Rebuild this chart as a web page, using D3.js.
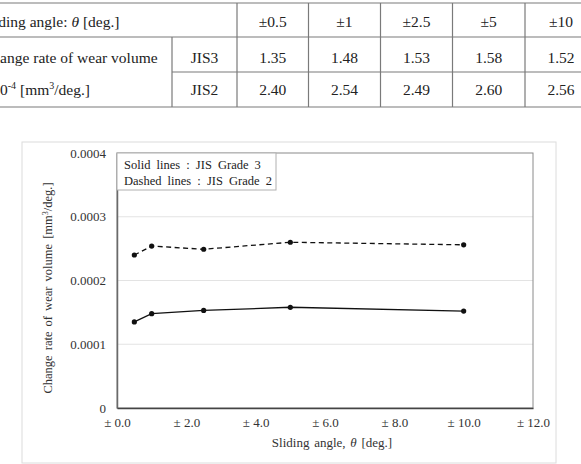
<!DOCTYPE html>
<html><head><meta charset="utf-8">
<script src="https://cdn.jsdelivr.net/npm/d3@7"></script>
<style>
html,body{margin:0;padding:0;background:#fff;}
svg{display:block;font-family:"Liberation Serif","Times New Roman",serif;}
</style></head>
<body><svg id="c" width="581" height="464"></svg>
<script>
const angles = [0.5, 1, 2.5, 5, 10];
const angleLabels = ["±0.5", "±1", "±2.5", "±5", "±10"];
const jis3 = [1.35, 1.48, 1.53, 1.58, 1.52];
const jis2 = [2.40, 2.54, 2.49, 2.60, 2.56];
const jis3Text = ["1.35", "1.48", "1.53", "1.58", "1.52"];
const jis2Text = ["2.40", "2.54", "2.49", "2.60", "2.56"];
const yTicks = [0, 0.0001, 0.0002, 0.0003, 0.0004];
const yTickLabels = ["0", "0.0001", "0.0002", "0.0003", "0.0004"];
const xTicks = [0, 2, 4, 6, 8, 10, 12];
const xTickLabels = ["± 0.0", "± 2.0", "± 4.0", "± 6.0", "± 8.0", "± 10.0", "± 12.0"];

const svg = d3.select("#c");

// ---------- Table ----------
const tb = svg.append("g");
const lineC = "#7a7a7a";
const rowsY = [3, 37, 72, 107];
const colX = [-40, 172, 237, 308.5, 380.5, 452.5, 525, 597];
const tfs = 15.5;
rowsY.forEach((yy, i) => {
  let x1 = -40;
  if (i === 2) x1 = 172;
  tb.append("line").attr("x1", x1).attr("x2", 600).attr("y1", yy).attr("y2", yy)
    .attr("stroke", lineC).attr("stroke-width", 1.2);
});
colX.slice(2).forEach(xx => {
  tb.append("line").attr("x1", xx).attr("x2", xx).attr("y1", rowsY[0]).attr("y2", rowsY[3])
    .attr("stroke", lineC).attr("stroke-width", 1.2);
});
tb.append("line").attr("x1", 172).attr("x2", 172).attr("y1", rowsY[1]).attr("y2", rowsY[3])
  .attr("stroke", lineC).attr("stroke-width", 1.2);

const t1 = tb.append("text").attr("x", -19).attr("y", 27).attr("font-size", tfs).attr("fill", "#222");
t1.append("tspan").text("Sliding angle: ");
t1.append("tspan").attr("font-style", "italic").text("θ");
t1.append("tspan").text(" [deg.]");
tb.append("text").attr("x", -18).attr("y", 63).attr("font-size", tfs).attr("fill", "#222").text("Change rate of wear volume");
const t3 = tb.append("text").attr("x", -16.5).attr("y", 95).attr("font-size", tfs).attr("fill", "#222");
t3.append("tspan").text("×10");
t3.append("tspan").attr("font-size", 10).attr("dy", -6).text("-4");
t3.append("tspan").attr("dy", 6).text(" [mm");
t3.append("tspan").attr("font-size", 10).attr("dy", -6).text("3");
t3.append("tspan").attr("dy", 6).text("/deg.]");
tb.append("text").attr("x", 204.5).attr("y", 63).attr("text-anchor", "middle").attr("font-size", tfs).attr("fill", "#222").text("JIS3");
tb.append("text").attr("x", 204.5).attr("y", 95).attr("text-anchor", "middle").attr("font-size", tfs).attr("fill", "#222").text("JIS2");
angleLabels.forEach((lab, i) => {
  const cx = (colX[i + 2] + colX[i + 3]) / 2;
  tb.append("text").attr("x", cx).attr("y", 27).attr("text-anchor", "middle").attr("font-size", tfs).attr("fill", "#222").text(lab);
  tb.append("text").attr("x", cx).attr("y", 63).attr("text-anchor", "middle").attr("font-size", tfs).attr("fill", "#222").text(jis3Text[i]);
  tb.append("text").attr("x", cx).attr("y", 95).attr("text-anchor", "middle").attr("font-size", tfs).attr("fill", "#222").text(jis2Text[i]);
});

// ---------- Chart ----------
svg.append("rect").attr("x", 22).attr("y", 142).attr("width", 534).attr("height", 321)
  .attr("fill", "#fff").attr("stroke", "#dcdcdc").attr("stroke-width", 1);

const pl = 117, pr = 533, pt = 153, pb = 408;
const x = d3.scaleLinear().domain([0, 12]).range([pl, pr]);
const y = d3.scaleLinear().domain([0, 0.0004]).range([pb, pt]);
const fs = 13;

svg.append("g").selectAll("line").data(yTicks.slice(1, 4)).join("line")
  .attr("x1", pl).attr("x2", pr).attr("y1", d => y(d)).attr("y2", d => y(d))
  .attr("stroke", "#e3e3e3").attr("stroke-width", 1);

svg.append("rect").attr("x", pl).attr("y", pt).attr("width", pr - pl).attr("height", pb - pt)
  .attr("fill", "none").attr("stroke", "#8a8a8a").attr("stroke-width", 1);

const yAxis = d3.axisLeft(y).tickValues(yTicks).tickFormat((d, i) => yTickLabels[i]).tickSize(0).tickPadding(11);
const gy = svg.append("g").attr("transform", `translate(${pl},0)`).call(yAxis);
gy.select(".domain").attr("stroke", "#6a6a6a").attr("stroke-width", 1.5);
gy.selectAll("text").attr("font-family", "Liberation Serif").attr("font-size", fs).attr("fill", "#333");

const xAxis = d3.axisBottom(x).tickValues(xTicks).tickFormat((d, i) => xTickLabels[i]).tickSize(0).tickPadding(10);
const gx = svg.append("g").attr("transform", `translate(0,${pb})`).call(xAxis);
gx.select(".domain").attr("stroke", "#444").attr("stroke-width", 1.5);
gx.selectAll("text").attr("font-family", "Liberation Serif").attr("font-size", fs).attr("fill", "#333");

const xt = svg.append("text").attr("x", 332).attr("y", 447).attr("text-anchor", "middle")
  .attr("font-size", fs).attr("fill", "#333").attr("word-spacing", 1.5);
xt.append("tspan").text("Sliding angle, ");
xt.append("tspan").attr("font-style", "italic").text("θ");
xt.append("tspan").text(" [deg.]");

const yt = svg.append("text").attr("transform", "translate(52,288) rotate(-90)").attr("text-anchor", "middle")
  .attr("font-size", 12.5).attr("fill", "#333").attr("word-spacing", 2);
yt.append("tspan").text("Change rate of wear volume [mm");
yt.append("tspan").attr("font-size", 8).attr("dy", -4).text("3");
yt.append("tspan").attr("dy", 4).text("/deg.]");

const data3 = angles.map((a, i) => ({x: a, y: jis3[i] * 1e-4}));
const data2 = angles.map((a, i) => ({x: a, y: jis2[i] * 1e-4}));
const line = d3.line().x(d => x(d.x)).y(d => y(d.y));
svg.append("path").datum(data3).attr("d", line).attr("fill", "none").attr("stroke", "#111").attr("stroke-width", 1.3);
svg.append("path").datum(data2).attr("d", line).attr("fill", "none").attr("stroke", "#111").attr("stroke-width", 1.3).attr("stroke-dasharray", "5,3.5");
[data3, data2].forEach(ds => {
  svg.append("g").selectAll("circle").data(ds).join("circle")
    .attr("cx", d => x(d.x)).attr("cy", d => y(d.y)).attr("r", 2.6).attr("fill", "#111");
});

svg.append("rect").attr("x", pl).attr("y", pt).attr("width", 159).attr("height", 37)
  .attr("fill", "#fff").attr("stroke", "#b0b0b0").attr("stroke-width", 1);
svg.append("text").attr("x", 124).attr("y", 169).attr("font-size", 12.5).attr("fill", "#222").attr("word-spacing", 3)
  .text("Solid lines : JIS Grade 3");
svg.append("text").attr("x", 124).attr("y", 185).attr("font-size", 12.5).attr("fill", "#222").attr("word-spacing", 3)
  .text("Dashed lines : JIS Grade 2");
</script></body></html>
